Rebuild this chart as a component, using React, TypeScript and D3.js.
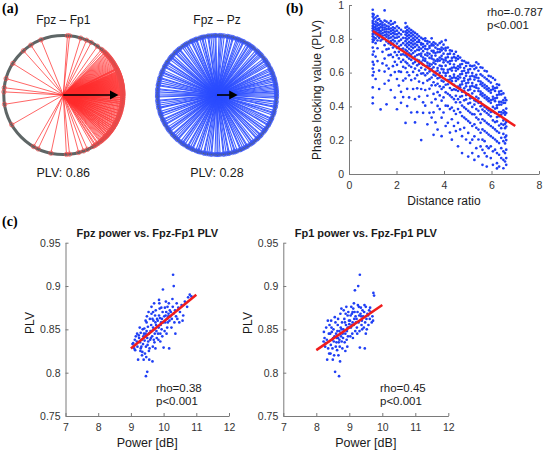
import React, { useEffect, useRef } from 'react';
import * as d3 from 'd3';

const W = 544;
const H = 452;

// ---------- (a) phase angles of single trials (degrees, 0 = right, CCW) ----------
const fp1Angles = [
  86, 84, 112, 123, 132, 148, 164, 173, 177, 189, 210, 240, 245, 258, 273, 276, 285, 290, 294, 300,
  73, 67, 62, 55, 50, 48, 46, 44, 42, 40, 38, 36, 34, 32, 29,
  -58, -57, -55, -54, -52, -51, -50, -49, -48, -47, -46, -45, -44.5, -44, -43, -42.5, -42, -41, -40.5, -40,
  -39, -38.5, -38, -37, -36.5, -36, -35, -34.5, -34, -33, -32.5, -32, -31, -30, -29.5, -29, -28, -27.5, -27,
  -26, -25, -24.5, -24, -23, -22, -21.5, -21, -20, -19, -18.5, -18, -17, -16, -15.5, -15, -14, -13, -12,
  -11.5, -11, -10, -9, -8.5, -8, -7, -6.5, -6, -5, -4.5, -4, -3, -2.5, -2, -1, -0.5, 0, 0.5, 1, 1.5, 2,
  2.5, 3, 3.5, 4, 4.5, 5, 5.5, 6, 6.5, 7, 7.5, 8, 8.5, 9, 9.5, 10, 10.5, 11, 11.5, 12, 12.5, 13, 13.5, 14,
  14.5, 15, 15.5, 16, 16.5, 17, 17.5, 18, 18.5, 19, 19.5, 20, 20.5, 21, 21.5, 22, 22.5, 23, 23.5, 24, 25,
  25.5, 26, 26.5, 27, 28, 30, 31, 33, 35, 37, 39, 41, 43, 45,
];
const pzAngles = [
  0, 1.5, 3, 4, 5.5, 7, 8.5, 10, 11, 13, 14.5, 16, 17, 19, 21, 22, 24, 25.5, 27, 30, 31.5, 33, 35, 36, 38,
  41, 42.5, 44, 46, 47, 49, 52, 53.5, 55, 57, 58, 60, 63, 64, 66, 68, 69.5, 71, 74, 75, 77, 79, 80, 83, 85,
  86.5, 88, 91, 92, 94, 96, 98, 99, 102, 104, 105, 107, 110, 111, 113, 115, 116, 119, 121, 122, 124, 126,
  129, 130, 132, 134, 135, 138, 140, 141, 143, 146, 147, 149, 151, 152, 155, 157, 158, 160, 163, 164, 166,
  168, 170, 171, 174, 175, 177, 179, 181, 182, 185, 186, 188, 190, 192, 193, 196, 198, 199, 201, 204, 205,
  207, 209, 210, 213, 215, 216, 218, 221, 222, 224, 226, 228, 229, 232, 234, 235, 237, 240, 241, 243, 245,
  246, 249, 251, 252, 254, 257, 258, 260, 262, 264, 265, 268, 270, 271, 273, 276, 277, 279, 281, 282, 285,
  287, 288, 290, 293, 294, 296, 298, 300, 301, 304, 306, 307, 309, 312, 313, 315, 317, 318, 321, 323, 324,
  326, 329, 330, 332, 334, 336, 337, 340, 342, 343, 345, 348, 349, 351, 353, 354, 357, 358.5,
];
const pairTitles = ['Fpz – Fp1', 'Fpz – Pz'];
const pairPlv = [0.86, 0.28];

// ---------- (b) PLV vs distance ratio ----------
const distanceColumns: [number, number[]][] = [
  [1.0, [0.972, 0.948, 0.931, 0.905, 0.893, 0.876, 0.862, 0.847, 0.829, 0.815, 0.796, 0.781, 0.748, 0.706, 0.663, 0.624, 0.583, 0.512, 0.452, 0.418]],
  [1.04, [0.943, 0.918, 0.887, 0.868, 0.853, 0.834, 0.808, 0.792, 0.725, 0.647, 0.603]],
  [1.12, [0.926, 0.902, 0.884, 0.871, 0.857, 0.842, 0.826, 0.803, 0.774, 0.695, 0.562]],
  [1.2, [0.935, 0.912, 0.893, 0.878, 0.861, 0.849, 0.832, 0.816, 0.79, 0.744, 0.668]],
  [1.27, [0.917, 0.883, 0.864, 0.851, 0.837, 0.822, 0.806, 0.612, 0.503]],
  [1.33, [0.904, 0.887, 0.869, 0.844, 0.828, 0.789, 0.382]],
  [1.41, [0.896, 0.879, 0.866, 0.852, 0.833, 0.818, 0.798, 0.723, 0.654]],
  [1.5, [0.968, 0.908, 0.884, 0.867, 0.855, 0.839, 0.821, 0.801, 0.762, 0.683, 0.606, 0.534]],
  [1.58, [0.902, 0.876, 0.859, 0.843, 0.826, 0.812, 0.784, 0.737, 0.642, 0.412]],
  [1.67, [0.893, 0.872, 0.857, 0.838, 0.819, 0.803, 0.773, 0.741, 0.703, 0.624, 0.553]],
  [1.76, [0.905, 0.884, 0.861, 0.846, 0.829, 0.807, 0.786, 0.765, 0.706, 0.585, 0.497]],
  [1.85, [0.889, 0.868, 0.851, 0.834, 0.815, 0.794, 0.772, 0.748, 0.692, 0.638]],
  [1.93, [0.897, 0.862, 0.843, 0.827, 0.806, 0.785, 0.757, 0.721, 0.664, 0.603, 0.452]],
  [2.02, [0.874, 0.848, 0.826, 0.807, 0.772, 0.745, 0.703, 0.646, 0.562, 0.383]],
  [2.1, [0.864, 0.835, 0.812, 0.786, 0.754, 0.723, 0.684, 0.607, 0.523]],
  [2.19, [0.853, 0.826, 0.795, 0.763, 0.737, 0.706, 0.663, 0.604, 0.486, 0.421]],
  [2.28, [0.842, 0.806, 0.774, 0.742, 0.708, 0.675, 0.634, 0.553, 0.455]],
  [2.38, [0.893, 0.866, 0.842, 0.825, 0.804, 0.786, 0.762, 0.735, 0.703, 0.664, 0.627, 0.565, 0.302]],
  [2.45, [0.872, 0.851, 0.834, 0.816, 0.797, 0.773, 0.752, 0.726, 0.694, 0.655, 0.602, 0.504, 0.402]],
  [2.53, [0.861, 0.843, 0.823, 0.806, 0.782, 0.764, 0.741, 0.714, 0.683, 0.642, 0.584, 0.453]],
  [2.62, [0.852, 0.833, 0.815, 0.793, 0.774, 0.754, 0.732, 0.706, 0.675, 0.633, 0.556, 0.364]],
  [2.7, [0.843, 0.824, 0.803, 0.785, 0.766, 0.745, 0.716, 0.687, 0.654, 0.604, 0.503]],
  [2.78, [0.835, 0.813, 0.794, 0.772, 0.753, 0.726, 0.695, 0.663, 0.624, 0.565, 0.443, 0.305]],
  [2.87, [0.826, 0.804, 0.781, 0.762, 0.735, 0.704, 0.676, 0.643, 0.585, 0.507, 0.366]],
  [2.95, [0.815, 0.792, 0.781, 0.749, 0.733, 0.708, 0.671, 0.652, 0.612, 0.547, 0.458]],
  [3.04, [0.806, 0.775, 0.766, 0.741, 0.712, 0.698, 0.661, 0.628, 0.594, 0.503, 0.201]],
  [3.12, [0.798, 0.769, 0.752, 0.727, 0.689, 0.673, 0.647, 0.596, 0.538, 0.424, 0.362]],
  [3.21, [0.803, 0.788, 0.757, 0.741, 0.706, 0.682, 0.669, 0.618, 0.584, 0.497, 0.404]],
  [3.3, [0.786, 0.771, 0.738, 0.717, 0.701, 0.659, 0.641, 0.596, 0.553, 0.463, 0.294]],
  [3.39, [0.781, 0.757, 0.746, 0.711, 0.687, 0.652, 0.638, 0.607, 0.561, 0.504, 0.362]],
  [3.48, [0.803, 0.769, 0.761, 0.729, 0.699, 0.684, 0.648, 0.621, 0.571, 0.525, 0.423, 0.334]],
  [3.56, [0.779, 0.761, 0.728, 0.719, 0.677, 0.659, 0.631, 0.588, 0.543, 0.474, 0.365, 0.232]],
  [3.64, [0.772, 0.748, 0.716, 0.701, 0.669, 0.651, 0.604, 0.582, 0.525, 0.443, 0.305]],
  [3.73, [0.763, 0.739, 0.721, 0.679, 0.668, 0.627, 0.612, 0.566, 0.534, 0.484, 0.403, 0.263]],
  [3.82, [0.774, 0.738, 0.722, 0.689, 0.671, 0.642, 0.598, 0.571, 0.519, 0.465, 0.384]],
  [3.9, [0.783, 0.748, 0.731, 0.699, 0.681, 0.638, 0.621, 0.579, 0.552, 0.503, 0.434, 0.333, 0.224]],
  [3.98, [0.765, 0.741, 0.712, 0.676, 0.661, 0.618, 0.601, 0.547, 0.514, 0.453, 0.364]],
  [4.07, [0.792, 0.746, 0.731, 0.687, 0.672, 0.641, 0.596, 0.581, 0.528, 0.483, 0.404, 0.284]],
  [4.16, [0.748, 0.709, 0.691, 0.662, 0.617, 0.601, 0.556, 0.531, 0.475, 0.403, 0.303]],
  [4.25, [0.731, 0.712, 0.668, 0.652, 0.621, 0.578, 0.559, 0.509, 0.465, 0.384, 0.245]],
  [4.33, [0.728, 0.687, 0.671, 0.628, 0.612, 0.567, 0.549, 0.497, 0.454, 0.393, 0.324, 0.203]],
  [4.42, [0.709, 0.691, 0.648, 0.631, 0.588, 0.572, 0.527, 0.501, 0.443, 0.374, 0.284]],
  [4.5, [0.723, 0.687, 0.671, 0.627, 0.611, 0.568, 0.551, 0.498, 0.463, 0.424, 0.355, 0.254]],
  [4.59, [0.698, 0.681, 0.637, 0.621, 0.578, 0.561, 0.517, 0.491, 0.443, 0.384, 0.303, 0.164]],
  [4.68, [0.689, 0.647, 0.631, 0.589, 0.571, 0.527, 0.512, 0.457, 0.424, 0.365, 0.264]],
  [4.76, [0.671, 0.651, 0.608, 0.592, 0.547, 0.531, 0.487, 0.461, 0.405, 0.343, 0.224, 0.124]],
  [4.85, [0.668, 0.627, 0.611, 0.567, 0.552, 0.507, 0.491, 0.436, 0.394, 0.334, 0.273]],
  [4.93, [0.659, 0.639, 0.597, 0.581, 0.536, 0.519, 0.467, 0.441, 0.384, 0.324, 0.204]],
  [5.02, [0.657, 0.617, 0.601, 0.557, 0.541, 0.496, 0.472, 0.417, 0.374, 0.313, 0.243, 0.103]],
  [5.1, [0.641, 0.621, 0.577, 0.561, 0.517, 0.501, 0.448, 0.421, 0.364, 0.303, 0.184]],
  [5.19, [0.638, 0.597, 0.581, 0.538, 0.521, 0.477, 0.451, 0.397, 0.354, 0.284, 0.203, 0.124]],
  [5.28, [0.642, 0.621, 0.576, 0.559, 0.516, 0.491, 0.436, 0.411, 0.353, 0.294, 0.223, 0.083]],
  [5.36, [0.661, 0.629, 0.587, 0.571, 0.526, 0.511, 0.457, 0.431, 0.384, 0.334, 0.273, 0.153]],
  [5.45, [0.651, 0.611, 0.568, 0.551, 0.506, 0.491, 0.447, 0.421, 0.374, 0.323, 0.263, 0.204, 0.104]],
  [5.54, [0.631, 0.589, 0.547, 0.531, 0.487, 0.471, 0.426, 0.401, 0.354, 0.303, 0.244, 0.163]],
  [5.62, [0.628, 0.581, 0.538, 0.521, 0.477, 0.461, 0.407, 0.381, 0.324, 0.264, 0.203, 0.143, 0.054]],
  [5.71, [0.611, 0.571, 0.528, 0.511, 0.467, 0.451, 0.397, 0.371, 0.314, 0.254, 0.194, 0.124]],
  [5.8, [0.607, 0.561, 0.518, 0.501, 0.457, 0.441, 0.387, 0.361, 0.303, 0.244, 0.164, 0.104, 0.044]],
  [5.88, [0.581, 0.551, 0.507, 0.491, 0.447, 0.431, 0.377, 0.351, 0.294, 0.233, 0.153]],
  [5.97, [0.577, 0.541, 0.497, 0.481, 0.437, 0.421, 0.367, 0.341, 0.284, 0.224, 0.164, 0.094]],
  [6.06, [0.568, 0.517, 0.501, 0.457, 0.441, 0.397, 0.371, 0.317, 0.274, 0.214, 0.134, 0.054]],
  [6.15, [0.557, 0.508, 0.491, 0.447, 0.431, 0.387, 0.361, 0.307, 0.264, 0.204, 0.144]],
  [6.23, [0.531, 0.511, 0.467, 0.451, 0.406, 0.391, 0.337, 0.311, 0.253, 0.193, 0.124, 0.064, 0.033]],
  [6.32, [0.527, 0.487, 0.471, 0.427, 0.411, 0.367, 0.341, 0.287, 0.244, 0.183, 0.114, 0.044]],
  [6.41, [0.491, 0.471, 0.427, 0.411, 0.367, 0.351, 0.297, 0.271, 0.214, 0.153, 0.094]],
  [6.5, [0.477, 0.437, 0.421, 0.377, 0.361, 0.317, 0.291, 0.237, 0.194, 0.134, 0.084, 0.034]],
  [6.57, [0.451, 0.421, 0.367, 0.351, 0.297, 0.271, 0.217, 0.181, 0.124, 0.074]],
  [6.62, [0.437, 0.387, 0.361, 0.307, 0.281, 0.227, 0.201, 0.144, 0.094, 0.054]],
];
const distFitX = [1, 7];
const distFitY = [0.846, 0.284];
const distXTicks = [0, 2, 4, 6, 8];
const distYTicks = [0, 0.2, 0.4, 0.6, 0.8, 1];

// ---------- (c) power vs PLV ----------
const fpzPoints: [number, number][] = [
  [9.05, 0.833], [9.07, 0.834], [9.12, 0.838], [9.1, 0.828], [9.15, 0.842], [9.18, 0.836], [9.2, 0.83], [9.22, 0.815], [9.13, 0.826], [9.19, 0.845],
  [9.25, 0.84], [9.28, 0.835], [9.3, 0.846], [9.32, 0.83], [9.35, 0.824], [9.38, 0.842], [9.27, 0.852], [9.33, 0.838], [9.36, 0.85], [9.39, 0.815], [9.3, 0.828], [9.24, 0.843], [9.37, 0.833], [9.4, 0.845], [9.34, 0.82], [9.29, 0.825],
  [9.42, 0.837], [9.45, 0.86], [9.48, 0.848], [9.5, 0.84], [9.46, 0.83], [9.52, 0.853], [9.55, 0.845], [9.43, 0.822], [9.47, 0.818], [9.5, 0.801], [9.46, 0.796], [9.56, 0.815], [9.58, 0.862], [9.44, 0.842], [9.53, 0.836], [9.57, 0.828], [9.49, 0.865], [9.41, 0.851], [9.6, 0.848], [9.54, 0.87], [9.51, 0.832], [9.59, 0.838], [9.45, 0.845], [9.55, 0.825], [9.48, 0.858],
  [9.62, 0.855], [9.65, 0.842], [9.68, 0.87], [9.7, 0.85], [9.66, 0.862], [9.72, 0.835], [9.75, 0.858], [9.78, 0.848], [9.63, 0.876], [9.67, 0.83], [9.74, 0.866], [9.79, 0.84], [9.71, 0.88], [9.64, 0.848], [9.77, 0.855], [9.69, 0.86], [9.73, 0.845], [9.61, 0.84], [9.66, 0.813], [9.76, 0.872], [9.8, 0.862], [9.7, 0.838], [9.63, 0.868], [9.68, 0.852], [9.75, 0.828],
  [9.82, 0.86], [9.85, 0.852], [9.88, 0.874], [9.9, 0.845], [9.86, 0.866], [9.92, 0.858], [9.95, 0.862], [9.98, 0.896], [9.84, 0.838], [9.87, 0.88], [9.94, 0.85], [9.97, 0.87], [9.91, 0.855], [9.83, 0.845], [9.96, 0.842], [9.89, 0.863], [9.93, 0.875], [9.81, 0.853], [9.99, 0.858], [10.0, 0.829], [9.86, 0.884], [9.9, 0.836],
  [10.02, 0.865], [10.05, 0.858], [10.08, 0.87], [10.1, 0.862], [10.12, 0.876], [10.15, 0.868], [10.18, 0.86], [10.03, 0.848], [10.07, 0.882], [10.11, 0.852], [10.14, 0.865], [10.17, 0.828], [10.19, 0.872], [10.04, 0.875], [10.09, 0.845], [10.13, 0.858], [10.16, 0.88], [10.06, 0.866], [10.2, 0.865],
  [10.22, 0.87], [10.25, 0.862], [10.28, 0.876], [10.29, 0.913], [10.31, 0.9], [10.3, 0.868], [10.33, 0.858], [10.35, 0.872], [10.38, 0.865], [10.4, 0.88], [10.24, 0.852], [10.27, 0.885], [10.36, 0.845], [10.42, 0.862], [10.45, 0.875], [10.48, 0.858], [10.5, 0.87],
  [10.55, 0.878], [10.6, 0.866], [10.65, 0.882], [10.72, 0.876], [10.8, 0.89], [10.75, 0.887], [10.85, 0.888], [10.58, 0.86],
];
const fp1Points: [number, number][] = [
  [8.23, 0.847], [8.25, 0.84], [8.28, 0.834], [8.3, 0.852], [8.33, 0.815], [8.35, 0.86], [8.38, 0.845], [8.27, 0.83], [8.32, 0.838], [8.36, 0.828], [8.4, 0.855], [8.22, 0.836], [8.39, 0.822],
  [8.42, 0.845], [8.45, 0.86], [8.48, 0.838], [8.5, 0.815], [8.52, 0.85], [8.55, 0.842], [8.57, 0.801], [8.58, 0.858], [8.44, 0.832], [8.46, 0.852], [8.49, 0.828], [8.53, 0.836], [8.56, 0.864], [8.6, 0.845], [8.43, 0.822], [8.51, 0.84], [8.59, 0.83], [8.47, 0.847], [8.54, 0.82],
  [8.62, 0.84], [8.65, 0.855], [8.68, 0.835], [8.69, 0.796], [8.7, 0.848], [8.72, 0.813], [8.73, 0.868], [8.75, 0.842], [8.78, 0.858], [8.63, 0.826], [8.66, 0.862], [8.71, 0.83], [8.74, 0.852], [8.77, 0.836], [8.8, 0.845], [8.64, 0.848], [8.67, 0.82], [8.76, 0.874], [8.79, 0.828], [8.61, 0.835], [8.7, 0.838], [8.73, 0.845], [8.66, 0.84], [8.77, 0.85],
  [8.82, 0.85], [8.85, 0.862], [8.88, 0.845], [8.9, 0.855], [8.92, 0.838], [8.95, 0.866], [8.98, 0.852], [8.83, 0.872], [8.86, 0.835], [8.89, 0.868], [8.93, 0.848], [8.96, 0.842], [8.99, 0.86], [8.81, 0.84], [8.87, 0.858], [8.91, 0.876], [8.94, 0.83], [8.97, 0.87], [8.84, 0.848], [9.0, 0.856], [8.88, 0.825], [8.95, 0.852],
  [9.02, 0.86], [9.05, 0.852], [9.08, 0.868], [9.1, 0.858], [9.12, 0.874], [9.15, 0.862], [9.17, 0.895], [9.18, 0.848], [9.03, 0.842], [9.06, 0.876], [9.09, 0.845], [9.13, 0.855], [9.16, 0.87], [9.19, 0.865], [9.04, 0.866], [9.11, 0.84], [9.14, 0.88], [9.2, 0.858], [9.07, 0.855], [9.1, 0.87],
  [9.22, 0.862], [9.25, 0.87], [9.27, 0.9], [9.28, 0.858], [9.3, 0.866], [9.32, 0.913], [9.32, 0.829], [9.35, 0.875], [9.38, 0.86], [9.23, 0.852], [9.26, 0.878], [9.31, 0.848], [9.34, 0.868], [9.37, 0.855], [9.4, 0.872], [9.24, 0.845], [9.29, 0.876], [9.36, 0.865], [9.39, 0.85],
  [9.42, 0.865], [9.45, 0.87], [9.47, 0.828], [9.48, 0.858], [9.5, 0.876], [9.52, 0.862], [9.55, 0.868], [9.58, 0.855], [9.6, 0.872], [9.44, 0.852], [9.46, 0.878], [9.53, 0.85], [9.57, 0.866], [9.62, 0.862], [9.65, 0.87], [9.68, 0.858], [9.7, 0.865], [9.73, 0.892], [9.75, 0.889], [9.72, 0.86], [9.5, 0.845], [9.63, 0.875],
];
const fpzFitX = [9, 11];
const fpzFitY = [0.828, 0.89];
const fp1FitX = [8, 10];
const fp1FitY = [0.826, 0.878];
const powerXTicks = [7, 8, 9, 10, 11, 12];
const powerYTicks = [0.75, 0.8, 0.85, 0.9, 0.95];
const powerTitles = ['Fpz power vs. Fpz-Fp1 PLV', 'Fp1 power vs. Fpz-Fp1 PLV'];
const powerStats = [['rho=0.38', 'p<0.001'], ['rho=0.45', 'p<0.001']];
const distStats = ['rho=-0.787', 'p<0.001'];

const SANS = '"Liberation Sans", Arial, Helvetica, sans-serif';
const SERIF = '"Liberation Serif", "Times New Roman", serif';
const AXIS = '#7a7a7a';
const TICKTXT = '#333333';
const DOT = '#1f3ff5';
const FIT = '#f01c1c';

type Sel = d3.Selection<SVGGElement, unknown, null, undefined>;

function styleAxis(g: Sel, fs: number) {
  g.select('.domain').attr('stroke', AXIS).attr('stroke-width', 1);
  g.selectAll('.tick line').attr('stroke', AXIS);
  g.selectAll('.tick text').attr('fill', TICKTXT).attr('font-size', fs).attr('font-family', SANS);
}

function drawAxes(root: Sel, x: d3.ScaleLinear<number, number>, y: d3.ScaleLinear<number, number>, xt: number[], yt: number[]) {
  const gx = root.append('g').attr('transform', `translate(0,${y.range()[0]})`)
    .call(d3.axisBottom(x).tickValues(xt).tickFormat((d) => String(d)).tickSizeInner(-3).tickSizeOuter(0).tickPadding(8));
  styleAxis(gx, 10.5);
  const gy = root.append('g').attr('transform', `translate(${x.range()[0]},0)`)
    .call(d3.axisLeft(y).tickValues(yt).tickFormat((d) => String(d)).tickSizeInner(-3).tickSizeOuter(0).tickPadding(5));
  styleAxis(gy, 10.5);
}

function text(root: Sel, x: number, y: number, s: string, fs: number, anchor = 'middle', opts: { bold?: boolean; serif?: boolean; rotate?: boolean } = {}) {
  const t = root.append('text')
    .attr('x', opts.rotate ? 0 : x).attr('y', opts.rotate ? 0 : y)
    .attr('text-anchor', anchor)
    .attr('font-size', fs)
    .attr('font-family', opts.serif ? SERIF : SANS)
    .attr('font-weight', opts.bold ? 'bold' : 'normal')
    .attr('fill', opts.serif ? '#000' : '#1a1a1a')
    .text(s);
  if (opts.rotate) t.attr('transform', `translate(${x},${y}) rotate(-90)`);
  return t;
}

export default function App() {
  const ref = useRef<SVGSVGElement>(null);

  useEffect(() => {
    const svg = d3.select(ref.current);
    svg.selectAll('*').remove();
    const root = svg.append('g') as unknown as Sel;

    // ---------- (a) ----------
    const centers = [[63.3, 95], [217, 95]];
    const R = 59.5;
    const rad = d3.scaleLinear().domain([0, 1]).range([0, R]);
    const angleSets = [fp1Angles, pzAngles];
    const lineCol = ['#ff2a2a', '#2b4dff'];
    const markCol = ['#f04848', '#3553ff'];
    angleSets.forEach((angles, i) => {
      const [cx, cy] = centers[i];
      const g = root.append('g').attr('transform', `translate(${cx},${cy})`);
      g.append('circle').attr('r', R).attr('fill', 'none').attr('stroke', '#5e6666').attr('stroke-width', 3);
      const pts = angles.map((a) => {
        const t = (a * Math.PI) / 180;
        return [rad(1) * Math.cos(t), -rad(1) * Math.sin(t)];
      });
      g.selectAll('line.tr').data(pts).enter().append('line')
        .attr('x1', 0).attr('y1', 0).attr('x2', (d) => d[0]).attr('y2', (d) => d[1])
        .attr('stroke', lineCol[i]).attr('stroke-width', i === 0 ? 0.8 : 1.05).attr('stroke-opacity', 0.9);
      g.selectAll('circle.mk').data(pts).enter().append('circle')
        .attr('cx', (d) => d[0]).attr('cy', (d) => d[1]).attr('r', 2.2)
        .attr('fill', 'none').attr('stroke', markCol[i]).attr('stroke-width', 0.8).attr('stroke-opacity', 0.85);
      // mean vector arrow
      const L = rad(pairPlv[i]);
      const tip = L + 4;
      g.append('line').attr('x1', 0).attr('y1', 0).attr('x2', tip - 7).attr('y2', 0)
        .attr('stroke', '#000').attr('stroke-width', 1.6);
      g.append('path').attr('d', `M${tip},0 L${tip - 8.5},-4.5 L${tip - 8.5},4.5 Z`).attr('fill', '#000');
      text(root, cx, 23.5, pairTitles[i], 12);
      text(root, cx, 177, `PLV: ${pairPlv[i].toFixed(2)}`, 12.5);
    });
    text(root, 2, 13, '(a)', 14, 'start', { bold: true, serif: true });

    // ---------- (b) ----------
    const bx = d3.scaleLinear().domain([0, 8]).range([349, 539]);
    const by = d3.scaleLinear().domain([0, 1]).range([174, 5]);
    drawAxes(root, bx, by, distXTicks, distYTicks);
    const bPts = distanceColumns.flatMap(([x, ys]) => ys.map((y) => [x, y] as [number, number]));
    root.append('g').selectAll('circle').data(bPts).enter().append('circle')
      .attr('cx', (d) => bx(d[0])).attr('cy', (d) => by(d[1])).attr('r', 1.35).attr('fill', DOT);
    const bLine = d3.line<number>().x((_, k) => bx(distFitX[k])).y((d) => by(d));
    root.append('path').attr('d', bLine(distFitY)).attr('stroke', FIT).attr('stroke-width', 2.5).attr('fill', 'none');
    text(root, 321, 90, 'Phase locking value (PLV)', 12, 'middle', { rotate: true });
    text(root, 444, 205, 'Distance ratio', 12);
    text(root, 487, 15.5, distStats[0], 11.5, 'start');
    text(root, 487, 29, distStats[1], 11.5, 'start');
    text(root, 286, 13, '(b)', 14, 'start', { bold: true, serif: true });

    // ---------- (c) ----------
    const cxRanges = [[65.5, 229], [283.3, 448.3]];
    const cy = d3.scaleLinear().domain([0.75, 0.95]).range([416, 242.7]);
    const sets = [fpzPoints, fp1Points];
    const fits = [[fpzFitX, fpzFitY], [fp1FitX, fp1FitY]];
    const statX = [156, 380];
    sets.forEach((pts, i) => {
      const x = d3.scaleLinear().domain([7, 12]).range(cxRanges[i]);
      drawAxes(root, x, cy, powerXTicks, powerYTicks);
      root.append('g').selectAll('circle').data(pts).enter().append('circle')
        .attr('cx', (d) => x(d[0])).attr('cy', (d) => cy(d[1])).attr('r', 1.35).attr('fill', DOT);
      const [fx, fy] = fits[i];
      const ln = d3.line<number>().x((_, k) => x(fx[k])).y((d) => cy(d));
      root.append('path').attr('d', ln(fy)).attr('stroke', FIT).attr('stroke-width', 2.5).attr('fill', 'none');
      const mid = (cxRanges[i][0] + cxRanges[i][1]) / 2;
      text(root, mid, 236.5, powerTitles[i], 11, 'middle', { bold: true });
      text(root, mid, 447, 'Power [dB]', 12.5);
      text(root, cxRanges[i][0] - 31.5, 323, 'PLV', 12, 'middle', { rotate: true });
      text(root, statX[i], 391.5, powerStats[i][0], 11.5, 'start');
      text(root, statX[i], 405, powerStats[i][1], 11.5, 'start');
    });
    text(root, 2, 226, '(c)', 14, 'start', { bold: true, serif: true });
  }, []);

  return (
    <svg
      ref={ref}
      width={W}
      height={H}
      viewBox={`0 0 ${W} ${H}`}
      style={{ position: 'absolute', left: 0, top: 0, background: '#fff' }}
    />
  );
}
